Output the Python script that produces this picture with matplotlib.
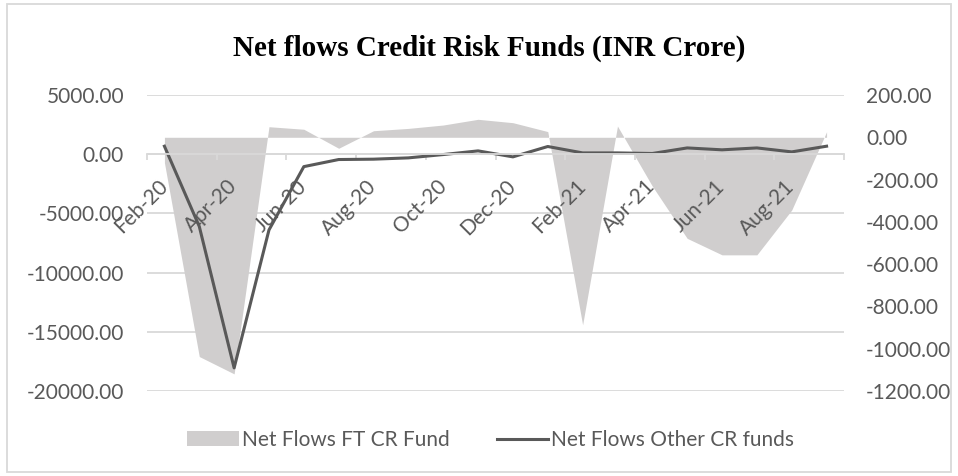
import matplotlib
matplotlib.use("Agg")
import matplotlib.pyplot as plt
from matplotlib.patches import Patch, Rectangle
from matplotlib.lines import Line2D
import numpy as np

months = ['Feb-20', 'Mar-20', 'Apr-20', 'May-20', 'Jun-20', 'Jul-20', 'Aug-20', 'Sep-20',
          'Oct-20', 'Nov-20', 'Dec-20', 'Jan-21', 'Feb-21', 'Mar-21', 'Apr-21', 'May-21',
          'Jun-21', 'Jul-21', 'Aug-21', 'Sep-21']
ft_cr_fund = [-120, -1037, -1119, 50, 38, -52, 31, 42, 58, 85, 69, 27,
              -887, 53, -231, -478, -556, -556, -344, 26]
other_cr_funds = [675, -6100, -18050, -6400, -1050, -450, -420, -310, -30, 280, -225, 650,
                  110, 110, 60, 530, 370, 530, 195, 675]
left_ticks = [5000, 0, -5000, -10000, -15000, -20000]
right_ticks = [200, 0, -200, -400, -600, -800, -1000, -1200]

plt.rcParams['axes.unicode_minus'] = False
plt.rcParams['font.family'] = ['Lato', 'DejaVu Sans']

AREA = '#d0cece'
LINE = '#595959'
TXT = '#595959'
GRID = '#d9d9d9'
FS = 15

W, H = 958, 476
fig = plt.figure(figsize=(W / 100, H / 100), dpi=100)
rect = [147 / W, 1 - 391 / H, (844 - 147) / W, (391 - 95) / H]

x = np.arange(len(months))

# background axes for gridlines
axg = fig.add_axes(rect, zorder=0)
axg.set_xlim(-0.5, len(months) - 0.5)
axg.set_ylim(-20000, 5000)
axg.set_yticks(left_ticks)
axg.yaxis.grid(True, color=GRID, linewidth=1.3)
axg.tick_params(left=False, bottom=False, labelleft=False, labelbottom=False)
for s in axg.spines.values():
    s.set_visible(False)

# area axes (right scale)
ax2 = fig.add_axes(rect, zorder=1)
ax2.patch.set_visible(False)
ax2.set_xlim(-0.5, len(months) - 0.5)
ax2.set_ylim(-1200, 200)
ax2.fill_between(x, ft_cr_fund, 0, color=AREA, linewidth=0)
ax2.yaxis.tick_right()
ax2.set_yticks(right_ticks)
ax2.set_yticklabels([f'{v:.2f}' for v in right_ticks])
ax2.tick_params(axis='y', length=0, pad=15.8, labelsize=FS, labelcolor=TXT)
ax2.tick_params(axis='x', bottom=False, labelbottom=False)
for s in ax2.spines.values():
    s.set_visible(False)

# line axes (left scale)
ax = fig.add_axes(rect, zorder=2)
ax.patch.set_visible(False)
ax.set_xlim(-0.5, len(months) - 0.5)
ax.set_ylim(-20000, 5000)
ax.plot(x, other_cr_funds, color=LINE, linewidth=2.2, solid_joinstyle='round')
ax.set_yticks(left_ticks)
ax.set_yticklabels([f'{v:.2f}' for v in left_ticks])
ax.tick_params(axis='y', length=0, pad=16.6, labelsize=FS, labelcolor=TXT)
for k in ['left', 'right', 'top']:
    ax.spines[k].set_visible(False)
ax.spines['bottom'].set_position(('data', 0))
ax.spines['bottom'].set_color(GRID)
ax.spines['bottom'].set_linewidth(1.3)
ax.set_xticks(x[::2])
ax.set_xticklabels(months[::2], rotation=45, ha='right', va='center',
                   rotation_mode='anchor')
ax.set_xticks(np.arange(-0.5, len(months), 2), minor=True)
ax.tick_params(axis='x', which='major', length=0, pad=20.9, labelsize=FS, labelcolor=TXT)
ax.tick_params(axis='x', which='minor', length=4.5, width=1.3, color=GRID, direction='out')

# title
fig.text(489 / W, 1 - 48 / H, 'Net flows Credit Risk Funds (INR Crore)',
         ha='center', va='center', fontsize=21, fontweight='bold',
         family=['Liberation Serif', 'DejaVu Serif'], color='black')

# legend
handles = [Patch(facecolor=AREA, edgecolor='none', label='Net Flows FT CR Fund'),
           Line2D([0], [0], color=LINE, linewidth=2.2, label='Net Flows Other CR funds')]
fig.legend(handles=handles, loc='center', bbox_to_anchor=(491 / W, 1 - 440 / H),
           ncol=2, frameon=False, fontsize=FS, labelcolor=TXT,
           handlelength=2.45, handletextpad=0.15, columnspacing=2.3)

# outer border
fig.patches.append(Rectangle((7 / W, 4 / H), (951 - 7) / W, (472 - 4) / H,
                             transform=fig.transFigure, fill=False,
                             edgecolor=GRID, linewidth=1.3))

fig.savefig('out.png', dpi=100)
